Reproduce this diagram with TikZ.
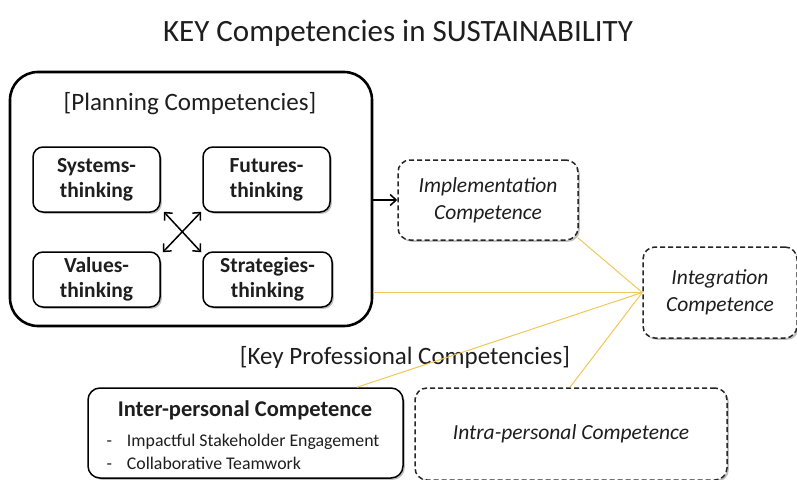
\documentclass[tikz,border=0pt]{standalone}
\usepackage{fontspec}
\setmainfont{Carlito}
\usetikzlibrary{arrows.meta,shadows,calc}
\definecolor{txt}{RGB}{30,30,30}
\definecolor{linkyellow}{RGB}{238,200,90}
\tikzset{
  x=1pt, y=-1pt,
  soft/.style={drop shadow={shadow xshift=1.8pt, shadow yshift=-1.8pt, opacity=0.25, fill=black}},
  bigbox/.style={draw=black, line width=2.6pt, rounded corners=28pt, fill=white, inner sep=0pt},
  thinkbox/.style={draw=black, line width=1.5pt, rounded corners=10pt, fill=white, soft,
    align=center, font=\fontsize{21.5}{25}\selectfont\bfseries, text=txt, inner sep=0pt},
  dashbox/.style={draw=black!85, line width=1.5pt, dashed, dash pattern=on 5pt off 3pt,
    rounded corners=12pt, fill=white, soft, align=center,
    font=\fontsize{21.5}{27}\selectfont\itshape, text=txt, inner sep=0pt},
  solidbox/.style={draw=black, line width=1.5pt, rounded corners=12pt, fill=white, soft, inner sep=0pt},
  heading/.style={font=\fontsize{25}{29}\selectfont, text=txt},
  link/.style={draw=linkyellow, line width=1pt},
  tip/.style={line width=1.5pt, {Straight Barb[length=6pt,width=11pt]}-{Straight Barb[length=6pt,width=11pt]}},
  onetip/.style={line width=1.5pt, -{Straight Barb[length=6pt,width=11pt]}},
}
\begin{document}
\begin{tikzpicture}
\useasboundingbox[fill=white] (0,0) rectangle (797,479);

% title
\node[font=\fontsize{31}{35}\selectfont, text=txt] (title) at (398,33) {KEY Competencies in SUSTAINABILITY};

% planning competencies group
\node[bigbox, minimum width=362pt, minimum height=254pt] (plan) at (191,199) {};
\node[heading] (planlbl) at (190,104) {[Planning Competencies]};
\node[thinkbox, minimum width=127pt, minimum height=65pt] (sys) at (96.5,179.5) {Systems-\\thinking};
\node[thinkbox, minimum width=127pt, minimum height=65pt] (fut) at (266.5,179.5) {Futures-\\thinking};
\node[thinkbox, minimum width=127pt, minimum height=55pt] (val) at (96.5,279.5) {Values-\\thinking};
\node[thinkbox, minimum width=129pt, minimum height=55pt] (str) at (267.5,279.5) {Strategies-\\thinking};

% links between the four thinking modes
\draw[tip] ([xshift=3pt,yshift=1pt]sys.south east) -- ([xshift=-1pt,yshift=-1pt]str.north west);
\draw[tip] ([xshift=-1pt,yshift=1pt]fut.south west) -- ([xshift=2pt,yshift=-1pt]val.north east);

% implementation and integration
\node[dashbox, minimum width=180pt, minimum height=80pt] (impl) at (488,200) {Implementation\\Competence};
\node[dashbox, minimum width=154pt, minimum height=91pt] (integ) at (720,292.5) {Integration\\Competence};
\draw[onetip] (impl.west -| plan.east) -- (impl.west);

% key professional competencies
\node[heading] (keylbl) at (405,357) {[Key Professional Competencies]};
\node[solidbox, minimum width=315pt, minimum height=90pt] (inter) at (245.5,433) {};
\node[font=\fontsize{22.5}{26}\selectfont\bfseries, text=txt] (intertitle) at (245,410) {Inter-personal Competence};
\node[font=\fontsize{17.8}{23}\selectfont, text=txt, anchor=west, align=left] (interlist) at (103,452)
  {-\hspace{15pt}Impactful Stakeholder Engagement\\-\hspace{15pt}Collaborative Teamwork};
\node[dashbox, minimum width=312pt, minimum height=92pt] (intra) at (571,434) {Intra-personal Competence};

% integration links
\coordinate (hub) at (integ.west);
\draw[link] ([xshift=-1pt,yshift=3pt]impl.south east) -- (hub);
\draw[link] (hub -| plan.east) -- (hub);
\draw[link] ([xshift=111.5pt]inter.north) -- (hub);
\draw[link] ([xshift=-1pt]intra.north) -- (hub);
\end{tikzpicture}
\end{document}
